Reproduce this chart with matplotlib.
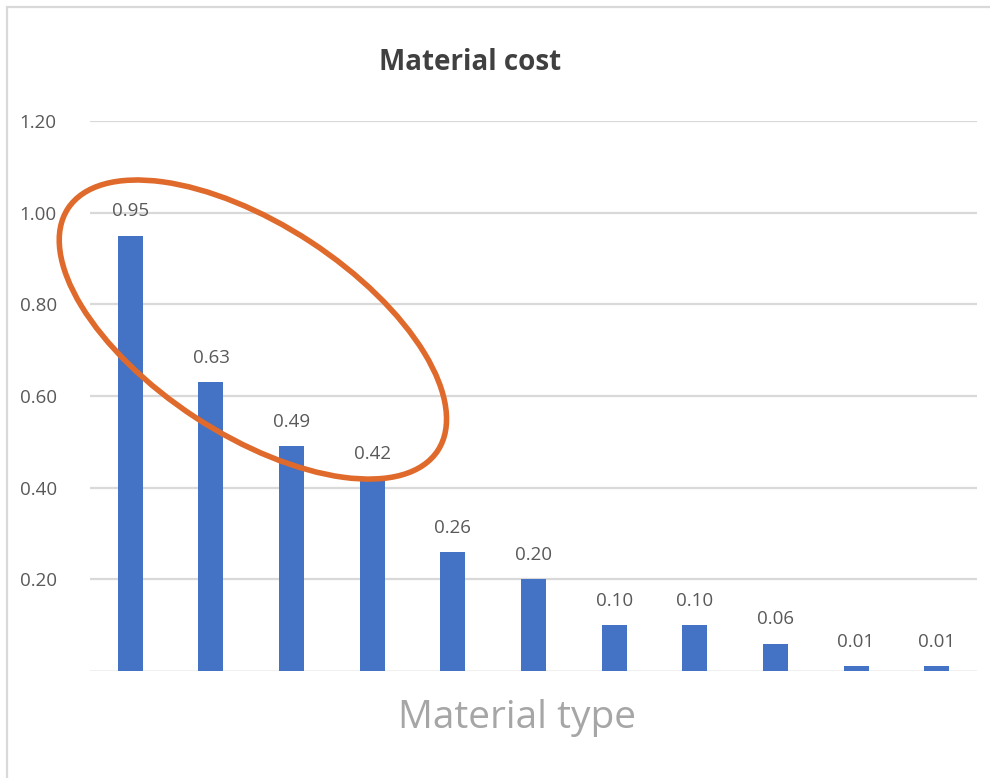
import matplotlib.pyplot as plt
from matplotlib.patches import Ellipse, Rectangle
from matplotlib.transforms import ScaledTranslation

# material cost per type, sorted high to low
materials = ['M1', 'M2', 'M3', 'M4', 'M5', 'M6', 'M7', 'M8', 'M9', 'M10', 'M11']
costs = [0.95, 0.63, 0.49, 0.42, 0.26, 0.20, 0.10, 0.10, 0.06, 0.01, 0.01]
y_ticks = [0.20, 0.40, 0.60, 0.80, 1.00, 1.20]

BAR_COLOR = '#4472C4'
TEXT_COLOR = '#595959'
GRID_COLOR = '#d9d9d9'
RING_COLOR = '#DF6A2C'

plt.rcParams['font.family'] = ['Open Sans', 'DejaVu Sans']

W, H = 990, 778
fig = plt.figure(figsize=(W / 100, H / 100), dpi=100)
fig.patch.set_facecolor('white')

# chart frame (left and top edges only)
fig.add_artist(Rectangle((7 / W, -0.1), 1.2, (H - 7) / H + 0.1, transform=fig.transFigure,
                         fill=False, edgecolor=GRID_COLOR, linewidth=1.6))

ax = fig.add_axes([90 / W, 1 - 671 / H, (977 - 90) / W, (671 - 121) / H])
x = list(range(len(materials)))
ax.bar(x, costs, width=0.31, color=BAR_COLOR, zorder=3)
ax.set_xlim(-0.5, len(materials) - 0.5)
ax.set_ylim(0, 1.2)
ax.set_yticks(y_ticks)
ax.set_yticklabels([f'{v:.2f}' for v in y_ticks])
ax.set_xticks([])
ax.tick_params(axis='y', length=0, pad=24, labelsize=13.5, labelcolor=TEXT_COLOR)
ax.yaxis.grid(True, color=GRID_COLOR, linewidth=1.6, zorder=0)
ax.axhline(0, color='#eeeeee', linewidth=1.2, zorder=1)
for side in ['top', 'right', 'left', 'bottom']:
    ax.spines[side].set_visible(False)

for xi, v in zip(x, costs):
    ax.annotate(f'{v:.2f}', (xi, v), xytext=(0, 11), textcoords='offset points',
                ha='center', va='bottom', fontsize=13.5, color=TEXT_COLOR)

fig.text(470 / W, 1 - 70 / H, 'Material cost', ha='center', va='baseline',
         fontsize=20, fontweight='bold', color='#404040')
fig.text(517 / W, 1 - 728 / H, 'Material type', ha='center', va='baseline',
         fontsize=28, color='#a6a6a6')

# highlight ring around the four most expensive materials
ring_center = ScaledTranslation(1.52, 0.745, ax.transData)
ring = Ellipse((0, 0), 4.42, 2.10, angle=-33.2, fill=False, edgecolor=RING_COLOR,
               linewidth=4.0, transform=fig.dpi_scale_trans + ring_center, zorder=5,
               clip_on=False)
ax.add_artist(ring)

fig.savefig('out.png', dpi=100, facecolor='white')
